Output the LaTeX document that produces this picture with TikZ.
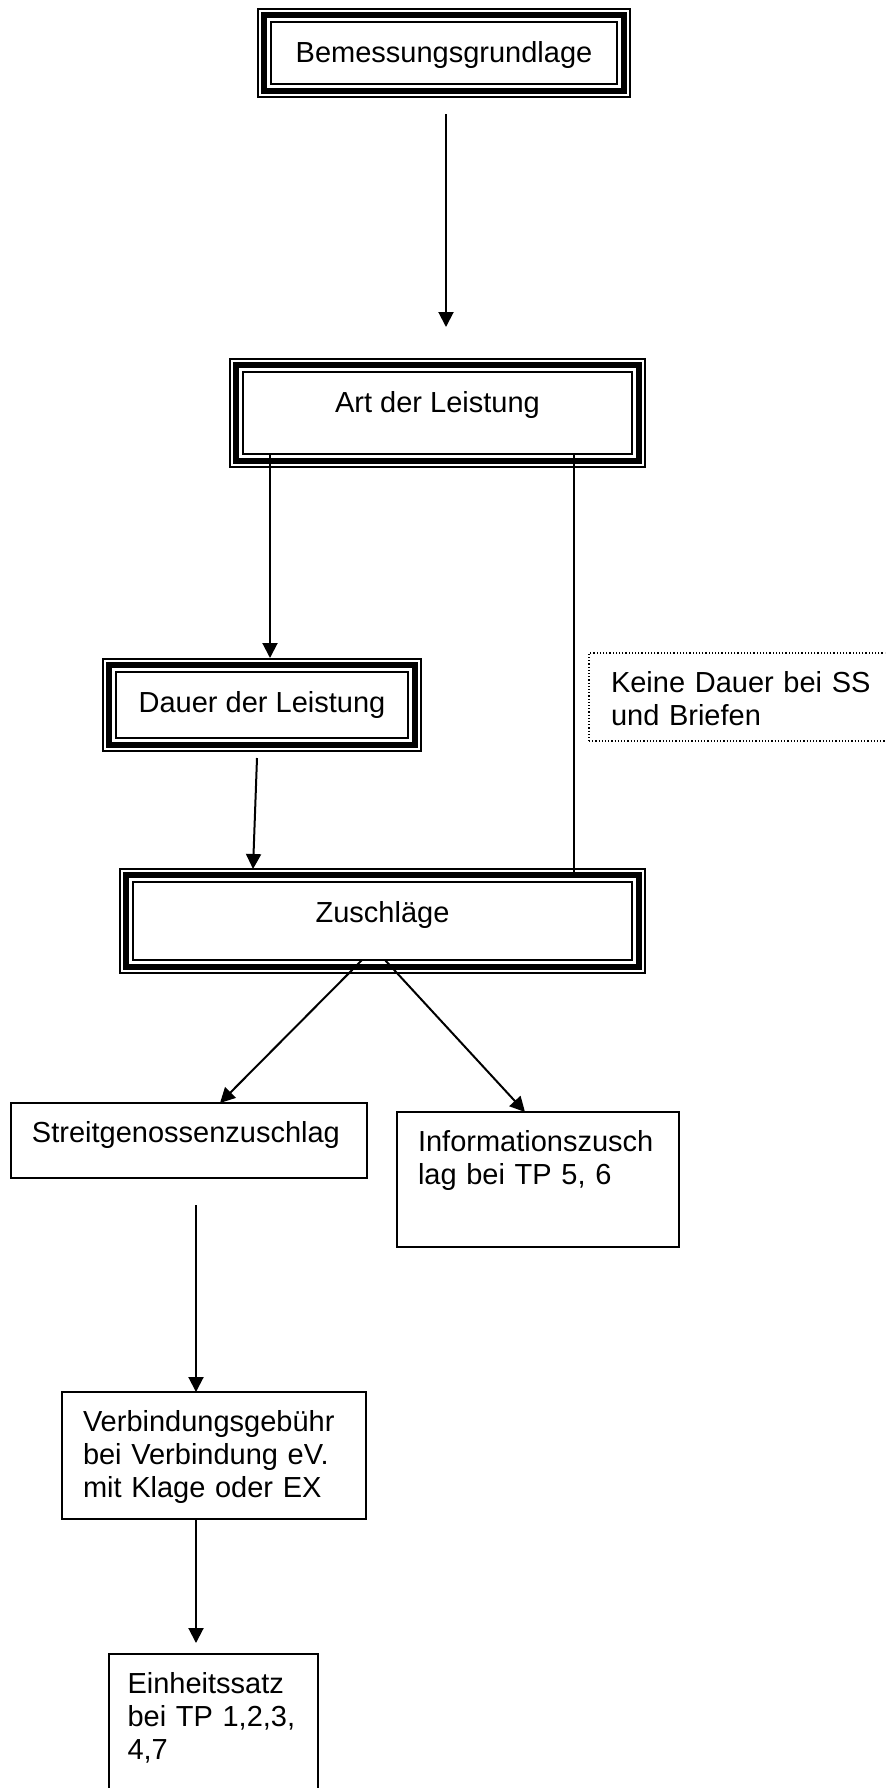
\documentclass[tikz,border=0pt]{standalone}
\usepackage{fontspec}
\setmainfont{Liberation Sans}
\usetikzlibrary{arrows.meta}
\newcommand{\flowfont}{\fontsize{14.5}{16.5}\selectfont}
\hyphenpenalty=10000
\tikzset{
  % Heading boxes: the inner line only, the two outer frames follow later.
  flow/frame/.style={
    draw, line width=1.3pt, outer sep=0pt, inner sep=0pt,
    text height=20pt, font=\flowfont
  },
  % Plain text boxes, text top left as in a word processor.
  flow/box/.style={
    draw, line width=0.75pt, outer sep=0pt, anchor=north west,
    inner xsep=10.5pt, inner ysep=0pt, align=left,
    text height=19.5pt, font=\flowfont
  },
  % Side remark.
  flow/note/.style={
    flow/box, line width=0.6pt, dash pattern=on 0.6pt off 1pt
  },
  flow/arrow/.style={
    -{Triangle[length=7.5pt,width=7.5pt]}, line width=1pt
  },
  flow/line/.style={line width=1pt},
}

\begin{document}
\begin{tikzpicture}[x=0.5pt,y=-0.5pt]
  \useasboundingbox (0,0) rectangle (885,1788);
  \clip (0,0) rectangle (885,1788);

  \node[flow/frame, minimum width=173pt, minimum height=31pt, text depth=11pt] (bem) at (444,53) {Bemessungsgrundlage};
  \node[flow/frame, minimum width=194.5pt, minimum height=41pt, text depth=21pt] (art) at (437.5,413) {Art der Leistung};
  \node[flow/frame, minimum width=146pt, minimum height=33pt, text depth=13pt] (dauer) at (262,705) {Dauer der Leistung};
  \node[flow/frame, minimum width=249.5pt, minimum height=39pt, text depth=19pt] (zus) at (382.5,921) {Zuschläge};
  \foreach \n in {bem,art,dauer,zus}{
    \draw[line width=2.6pt] ([shift={(-3.5pt,-3.5pt)}]\n.south west) rectangle ([shift={(3.5pt,3.5pt)}]\n.north east);
    \draw[line width=0.75pt] ([shift={(-6.5pt,-6.5pt)}]\n.south west) rectangle ([shift={(6.5pt,6.5pt)}]\n.north east);}

  \node[flow/note, text width=143pt, inner xsep=11pt, text depth=24.5pt] (keine) at (589,653) {Keine Dauer bei SS\\und Briefen};
  \node[flow/box, text width=157pt, text depth=18pt] (streit) at (11,1103) {Streitgenossenzuschlag};
  \node[flow/box, text width=120pt, text depth=48pt] (info) at (397,1112) {Informationszusch\\lag bei TP 5, 6};
  \node[flow/box, text width=131pt, text depth=44pt] (verb) at (62,1392) {Verbindungsgebühr\\bei Verbindung eV.\\mit Klage oder EX};
  \node[flow/box, text width=86pt, inner xsep=9.25pt, text depth=60.5pt] (einheit) at (109,1654) {Einheitssatz\\bei TP 1,2,3,\\4,7};

  \draw[flow/arrow] ([shift={(1pt,-15pt)}]bem.south) -- ([shift={(4.25pt,22.5pt)}]art.north);
  \draw[flow/arrow] ([xshift=13.5pt]art.south west) -- ([shift={(4pt,7pt)}]dauer.north);
  \draw[flow/line] ([xshift=165.5pt]art.south west) -- ([shift={(220.5pt,3.5pt)}]zus.north west);
  \draw[flow/arrow] ([shift={(-2.5pt,-10pt)}]dauer.south) -- ([shift={(60pt,6.5pt)}]zus.north west);
  \draw[flow/arrow] ([xshift=114.5pt]zus.south west) -- ([xshift=104.5pt]streit.north west);
  \draw[flow/arrow] ([xshift=126pt]zus.south west) -- ([xshift=64pt]info.north west);
  \draw[flow/arrow] ([shift={(92.5pt,-13.5pt)}]streit.south west) -- ([xshift=67pt]verb.north west);
  \draw[flow/arrow] ([xshift=67pt]verb.south west) -- ([shift={(43.5pt,5.5pt)}]einheit.north west);
\end{tikzpicture}
\end{document}
